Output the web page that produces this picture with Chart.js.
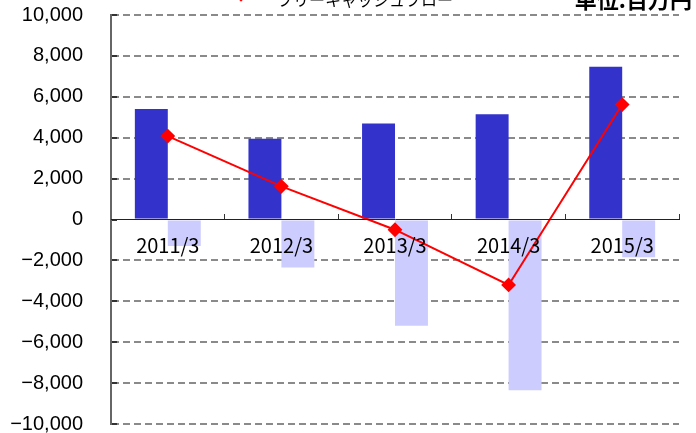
<!DOCTYPE html>
<html lang="ja">
<head>
<meta charset="utf-8">
<script src="https://cdn.jsdelivr.net/npm/chart.js@4"></script>
<style>
  body { margin: 0; background: #fff; overflow: hidden; }
  #wrap { position: relative; width: 696px; height: 433px; overflow: hidden; }
  #legend { position: absolute; left: 226px; top: -9px; font: 16px/16px "Noto Sans CJK JP", sans-serif; color: #000; white-space: nowrap; }
  #legend .mark { display: inline-block; position: relative; width: 32px; height: 16px; vertical-align: top; margin-right: 19px; }
  #legend .mark::before { content: ""; position: absolute; left: 0; right: 0; top: 4px; height: 2px; background: #f00; }
  #legend .mark::after { content: ""; position: absolute; left: 11px; top: 1px; width: 8px; height: 8px; background: #f00; transform: rotate(45deg); }
  #unit { position: absolute; right: 4px; top: -13px; font: bold 22px/22px "Noto Sans CJK JP", sans-serif; color: #000; white-space: nowrap; }
</style>
</head>
<body>
<div id="wrap">
  <canvas id="myChart"></canvas>
  <div id="legend"><span class="mark"></span>フリーキャッシュフロー</div>
  <div id="unit">単位:百万円</div>
</div>

<script>
// data (百万円)
const categories = ["2011/3", "2012/3", "2013/3", "2014/3", "2015/3"];
const operatingCF = [5400, 3950, 4700, 5150, 7470];
const investingCF = [-1300, -2350, -5200, -8350, -1850];
const freeCF = [4080, 1620, -500, -3200, 5620];
const yTicks = [-10000, -8000, -6000, -4000, -2000, 0, 2000, 4000, 6000, 8000, 10000];

document.addEventListener("DOMContentLoaded", function () {

  const ctx = document.getElementById("myChart");
  new Chart(ctx, {
    type: "bar",
    data: {
      labels: categories,
      datasets: [
        {
          label: "営業キャッシュフロー",
          data: operatingCF,
          backgroundColor: "#3333cc",
          order: 1,
        },
        {
          label: "投資キャッシュフロー",
          data: investingCF,
          backgroundColor: "#ccccff",
          order: 1,
        },
        {
          type: "line",
          label: "フリーキャッシュフロー",
          data: freeCF,
          borderColor: "#ff0000",
          backgroundColor: "#ff0000",
          borderWidth: 2,
          pointStyle: "rectRot",
          pointRadius: 6,
          pointHoverRadius: 6,
          tension: 0,
          order: 0,
        },
      ],
    },
    options: {
      responsive: true,
      maintainAspectRatio: false,
      animation: false,
      layout: {
        padding: { top: 15, right: 17, bottom: 9, left: 0 },
      },
      datasets: {
        bar: {
          categoryPercentage: 0.58,
          barPercentage: 1.0,
        },
      },
      plugins: {
        legend: { display: false },
        tooltip: { enabled: false },
      },
      scales: {
        x: {
          position: { y: 0 },
          afterFit: function (scale) {
            scale.height = 0;
          },
          grid: {
            drawOnChartArea: false,
            tickLength: -6,
            tickColor: "#333",
            tickWidth: 1,
          },
          border: { display: true, color: "#222", width: 1, z: 1 },
          ticks: {
            z: 1,
            color: "#000",
            padding: 20,
            maxRotation: 0,
            font: { family: '"Noto Sans CJK JP", sans-serif', size: 20 },
          },
        },
        y: {
          min: -10000,
          max: 10000,
          afterBuildTicks: function (scale) {
            scale.ticks = yTicks.map(function (v) { return { value: v }; });
          },
          afterFit: function (scale) {
            scale.width = 111;
            scale.paddingTop = 0;
            scale.paddingBottom = 0;
          },
          grid: {
            color: function (c) {
              return c.tick && c.tick.value === 0 ? "rgba(0,0,0,0)" : "#8a8a8a";
            },
            lineWidth: 2,
            tickLength: -6,
            tickColor: "#333",
            tickWidth: 2,
            tickBorderDash: [],
          },
          border: { display: true, color: "#666", width: 2, dash: [7, 4] },
          ticks: {
            color: "#000",
            padding: 34,
            font: { family: '"Liberation Sans", sans-serif', size: 20 },
            callback: function (v) {
              return Number(v).toLocaleString("en-US").replace("-", "\u2212");
            },
          },
        },
      },
    },
  });

});
</script>
</body>
</html>
